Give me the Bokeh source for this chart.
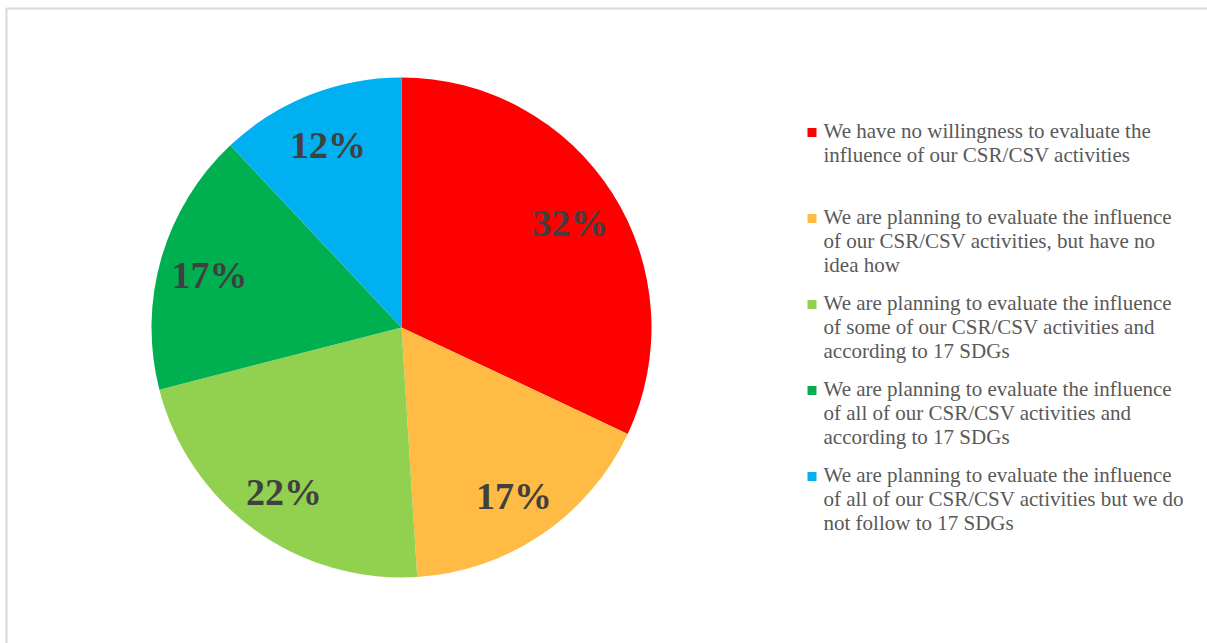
import math
from bokeh.plotting import figure
from bokeh.core.properties import value
from bokeh.models import ColumnDataSource
from bokeh.embed import file_html
from bokeh.resources import INLINE

# ---- data ----
categories = [
    "We have no willingness to evaluate the\ninfluence of our CSR/CSV activities",
    "We are planning to evaluate the influence\nof our CSR/CSV activities, but have no\nidea how",
    "We are planning to evaluate the influence\nof some of our CSR/CSV activities and\naccording to 17 SDGs",
    "We are planning to evaluate the influence\nof all of our CSR/CSV activities and\naccording to 17 SDGs",
    "We are planning to evaluate the influence\nof all of our CSR/CSV activities but we do\nnot follow to 17 SDGs",
]
shares = [32, 17, 22, 17, 12]
colors = ["#FF0000", "#FFBB44", "#92D050", "#00B050", "#00B0F0"]

W, H = 1207, 643
R_PX = 250.0
CX_PX, CY_PX = 401, 327

p = figure(width=W, height=H, output_backend="svg", toolbar_location=None,
           x_range=(-CX_PX / R_PX, (W - CX_PX) / R_PX),
           y_range=(-(H - CY_PX) / R_PX, CY_PX / R_PX),
           min_border=0, outline_line_color=None)
p.axis.visible = False
p.grid.visible = False
p.background_fill_color = "white"
p.border_fill_color = "white"

px = lambda x: (x - CX_PX) / R_PX
py = lambda y: (CY_PX - y) / R_PX
# frame border (light grey) like the source
p.line([px(6), px(6), px(W + 20)], [py(H + 20), py(8), py(8)], line_color="#D9D9D9", line_width=2)

total = float(sum(shares))
starts, ends, mids = [], [], []
acc = 0.0
for v in shares:
    a0 = math.pi / 2 - 2 * math.pi * acc / total
    acc += v
    a1 = math.pi / 2 - 2 * math.pi * acc / total
    starts.append(a1)
    ends.append(a0)
    mids.append((a0 + a1) / 2)

src = ColumnDataSource(dict(start=starts, end=ends, color=colors,
                            lx=[0.8 * math.cos(m) for m in mids],
                            ly=[0.8 * math.sin(m) for m in mids],
                            lab=["%d%%" % v for v in shares]))
p.wedge(x=0, y=0, radius=1, start_angle="start", end_angle="end",
        fill_color="color", line_color=None, source=src)
p.text(x="lx", y="ly", text="lab", source=src, text_align="center", text_baseline="middle",
       text_font=value("Liberation Serif"), text_font_style="bold",
       text_font_size="38px", text_color="#404040", y_offset=3)

# ---- legend (manual) ----
tops = [131, 217, 303, 389, 475]
p.scatter(x=[px(811.5)] * 5, y=[py(t + 1) for t in tops], marker="square", size=9,
          fill_color=colors, line_color=None)
p.text(x=[px(823)] * 5, y=[py(t - 13) for t in tops], text=categories,
       text_align="left", text_baseline="top", text_line_height=1.0,
       text_font=value("Liberation Serif"), text_font_size="21px", text_color="#595959")

open("out.html", "w").write(file_html(p, INLINE))
